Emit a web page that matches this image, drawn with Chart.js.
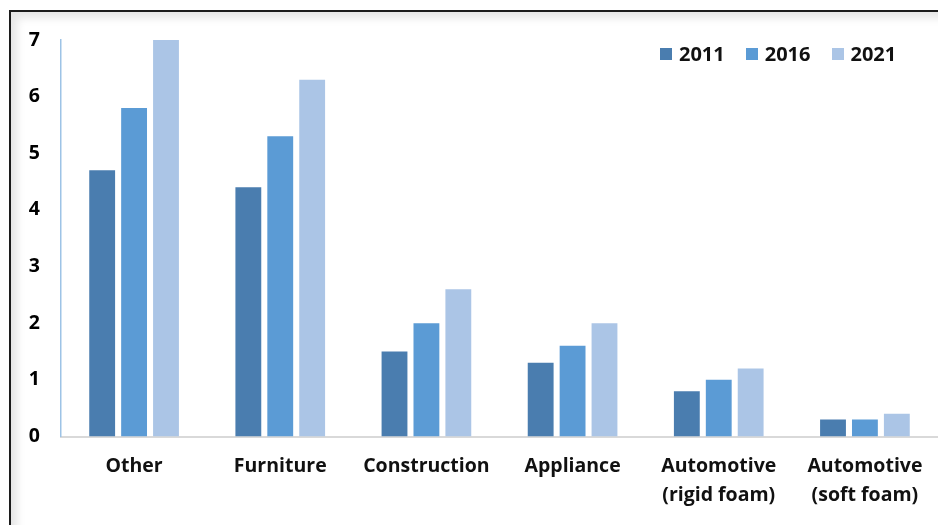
<!DOCTYPE html>
<html>
<head>
    <meta charset="utf-8" />
    <title>Foam Demand by Sector</title>
    <script src="https://cdn.jsdelivr.net/npm/chart.js"></script>
    <style>
        body { margin: 0; padding: 0; overflow: hidden; background: #fff; font-family: "Open Sans", Arial, sans-serif; }
        #frame {
            position: absolute;
            left: 9px;
            top: 10px;
            width: 940px;
            height: 530px;
            border: 2px solid #1c1c1c;
            box-shadow: inset 6px 6px 9px rgba(0,0,0,0.10);
        }
        #chart { position: absolute; left: 0; top: 0; }
        #legend {
            position: absolute;
            left: 660px;
            top: 40px;
            display: flex;
            font-weight: bold;
            font-size: 20px;
            color: #111;
        }
        #legend div { display: flex; align-items: center; margin-right: 21px; }
        #legend span { width: 12px; height: 12px; margin-right: 7px; display: inline-block; }
    </style>
</head>
<body>
    <div id="frame"></div>
    <canvas id="chart" width="938" height="525"></canvas>
    <div id="legend"></div>
    <script>
        // Categories and series values
        var categories = ['Other', 'Furniture', 'Construction', 'Appliance', ['Automotive', '(rigid foam)'], ['Automotive', '(soft foam)']];
        var years = ['2011', '2016', '2021'];
        var values2011 = [4.7, 4.4, 1.5, 1.3, 0.8, 0.3];
        var values2016 = [5.8, 5.3, 2.0, 1.6, 1.0, 0.3];
        var values2021 = [7.0, 6.3, 2.6, 2.0, 1.2, 0.4];
        var yTicks = [0, 1, 2, 3, 4, 5, 6, 7];

        var colors = ['#4a7daf', '#5b9bd5', '#abc5e6'];
        var series = [values2011, values2016, values2021];

        var datasets = years.map(function (y, i) {
            return {
                label: y,
                data: series[i],
                backgroundColor: colors[i],
                categoryPercentage: 0.655,
                barPercentage: 0.81
            };
        });

        var tickFont = { family: 'Open Sans', size: 19.5, weight: 'bold' };

        var chart = new Chart(document.getElementById('chart').getContext('2d'), {
            type: 'bar',
            data: { labels: categories, datasets: datasets },
            options: {
                responsive: false,
                animation: false,
                layout: { padding: { top: 40, right: 0, left: 0, bottom: 0 } },
                plugins: {
                    legend: { display: false },
                    tooltip: { enabled: false }
                },
                scales: {
                    x: {
                        grid: { display: false, drawTicks: false },
                        border: { color: '#d9d9d9', width: 2 },
                        ticks: { color: '#111', font: Object.assign({ lineHeight: 1.5 }, tickFont), padding: 15, maxRotation: 0, autoSkip: false }
                    },
                    y: {
                        min: 0,
                        max: 7,
                        afterFit: function (s) { s.width = 61; },
                        afterBuildTicks: function (s) { s.ticks = yTicks.map(function (v) { return { value: v }; }); },
                        grid: { display: false, drawTicks: false },
                        border: { color: '#9dc3e6', width: 1.5 },
                        ticks: { color: '#000', font: tickFont, padding: 21 }
                    }
                }
            }
        });

        // Legend built from the datasets
        var legend = document.getElementById('legend');
        chart.data.datasets.forEach(function (ds) {
            var item = document.createElement('div');
            item.innerHTML = '<span style="background-color:' + ds.backgroundColor + '"></span>' + ds.label;
            legend.appendChild(item);
        });
    </script>
</body>
</html>
